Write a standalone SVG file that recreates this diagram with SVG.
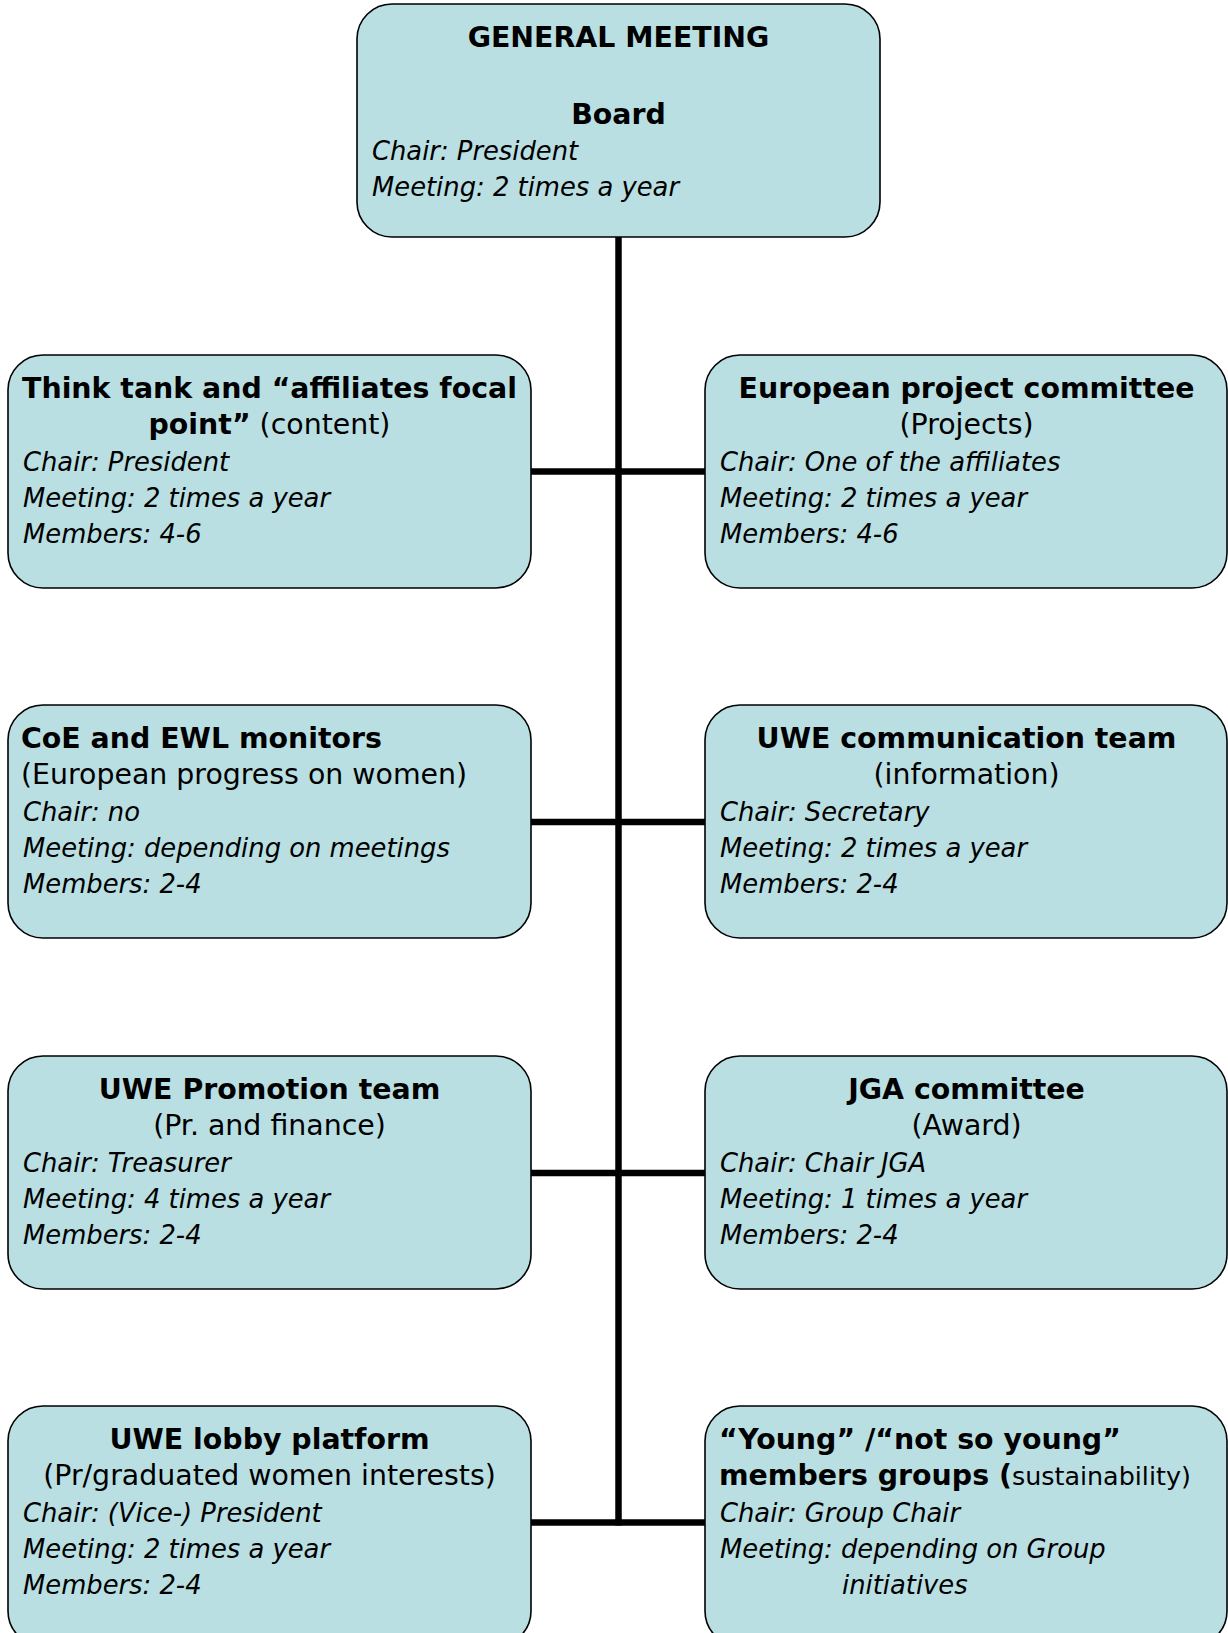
<svg xmlns="http://www.w3.org/2000/svg" width="1228" height="1633" viewBox="0 0 1228 1633">
<style>
.box{fill:#B9DFE3;stroke:#000;stroke-width:1.6}
.t{font-family:"DejaVu Sans","Verdana",sans-serif;font-size:28.4px;fill:#000}
.b{font-weight:bold}
.c{text-anchor:middle}
.i{font-style:italic;font-size:25.8px}
.con{stroke:#000;stroke-width:6.5;fill:none}
</style>
<rect width="1228" height="1633" fill="#fff"/>
<g id="connectors">
<line class="con" x1="618.5" y1="237" x2="618.5" y2="1525.5"/>
<line class="con" x1="531" y1="471.5" x2="705" y2="471.5"/>
<line class="con" x1="531" y1="822" x2="705" y2="822"/>
<line class="con" x1="531" y1="1173" x2="705" y2="1173"/>
<line class="con" x1="531" y1="1522.5" x2="705" y2="1522.5"/>
</g>
<g id="board">
<rect class="box" x="357" y="4" width="523" height="233" rx="35"/>
<text class="t b c" x="618.5" y="47">GENERAL MEETING</text>
<text class="t b c" x="618.5" y="124">Board</text>
<text class="t i" x="372" y="160">Chair: President</text>
<text class="t i" x="372" y="196">Meeting: 2 times a year</text>
</g>
<g id="think-tank">
<rect class="box" x="8" y="355" width="523" height="233" rx="35"/>
<text class="t b c" x="269.5" y="398">Think tank and “affiliates focal</text>
<text class="t c" x="269.5" y="434"><tspan class="b">point”</tspan> (content)</text>
<text class="t i" x="23" y="471">Chair: President</text>
<text class="t i" x="23" y="507">Meeting: 2 times a year</text>
<text class="t i" x="23" y="543">Members: 4-6</text>
</g>
<g id="european-project">
<rect class="box" x="705" y="355" width="522" height="233" rx="35"/>
<text class="t b c" x="966.5" y="398">European project committee</text>
<text class="t c" x="966.5" y="434">(Projects)</text>
<text class="t i" x="720" y="471">Chair: One of the affiliates</text>
<text class="t i" x="720" y="507">Meeting: 2 times a year</text>
<text class="t i" x="720" y="543">Members: 4-6</text>
</g>
<g id="coe-ewl">
<rect class="box" x="8" y="705" width="523" height="233" rx="35"/>
<text class="t b" x="21" y="748">CoE and EWL monitors</text>
<text class="t" x="21" y="784">(European progress on women)</text>
<text class="t i" x="23" y="821">Chair: no</text>
<text class="t i" x="23" y="857">Meeting: depending on meetings</text>
<text class="t i" x="23" y="893">Members: 2-4</text>
</g>
<g id="communication">
<rect class="box" x="705" y="705" width="522" height="233" rx="35"/>
<text class="t b c" x="966.5" y="748">UWE communication team</text>
<text class="t c" x="966.5" y="784">(information)</text>
<text class="t i" x="720" y="821">Chair: Secretary</text>
<text class="t i" x="720" y="857">Meeting: 2 times a year</text>
<text class="t i" x="720" y="893">Members: 2-4</text>
</g>
<g id="promotion">
<rect class="box" x="8" y="1056" width="523" height="233" rx="35"/>
<text class="t b c" x="269.5" y="1099">UWE Promotion team</text>
<text class="t c" x="269.5" y="1135">(Pr. and finance)</text>
<text class="t i" x="23" y="1172">Chair: Treasurer</text>
<text class="t i" x="23" y="1208">Meeting: 4 times a year</text>
<text class="t i" x="23" y="1244">Members: 2-4</text>
</g>
<g id="jga">
<rect class="box" x="705" y="1056" width="522" height="233" rx="35"/>
<text class="t b c" x="966.5" y="1099">JGA committee</text>
<text class="t c" x="966.5" y="1135">(Award)</text>
<text class="t i" x="720" y="1172">Chair: Chair JGA</text>
<text class="t i" x="720" y="1208">Meeting: 1 times a year</text>
<text class="t i" x="720" y="1244">Members: 2-4</text>
</g>
<g id="lobby">
<rect class="box" x="8" y="1406" width="523" height="240" rx="35"/>
<text class="t b c" x="269.5" y="1449">UWE lobby platform</text>
<text class="t c" x="269.5" y="1485">(Pr/graduated women interests)</text>
<text class="t i" x="23" y="1522">Chair: (Vice-) President</text>
<text class="t i" x="23" y="1558">Meeting: 2 times a year</text>
<text class="t i" x="23" y="1594">Members: 2-4</text>
</g>
<g id="young">
<rect class="box" x="705" y="1406" width="522" height="240" rx="35"/>
<text class="t b" x="719" y="1449">“Young” /“not so young”</text>
<text class="t" x="719" y="1485"><tspan class="b">members groups (</tspan><tspan font-size="25.4">sustainability)</tspan></text>
<text class="t i" x="720" y="1522">Chair: Group Chair</text>
<text class="t i" x="720" y="1558">Meeting: depending on Group</text>
<text class="t i" x="842" y="1594">initiatives</text>
</g>
</svg>
